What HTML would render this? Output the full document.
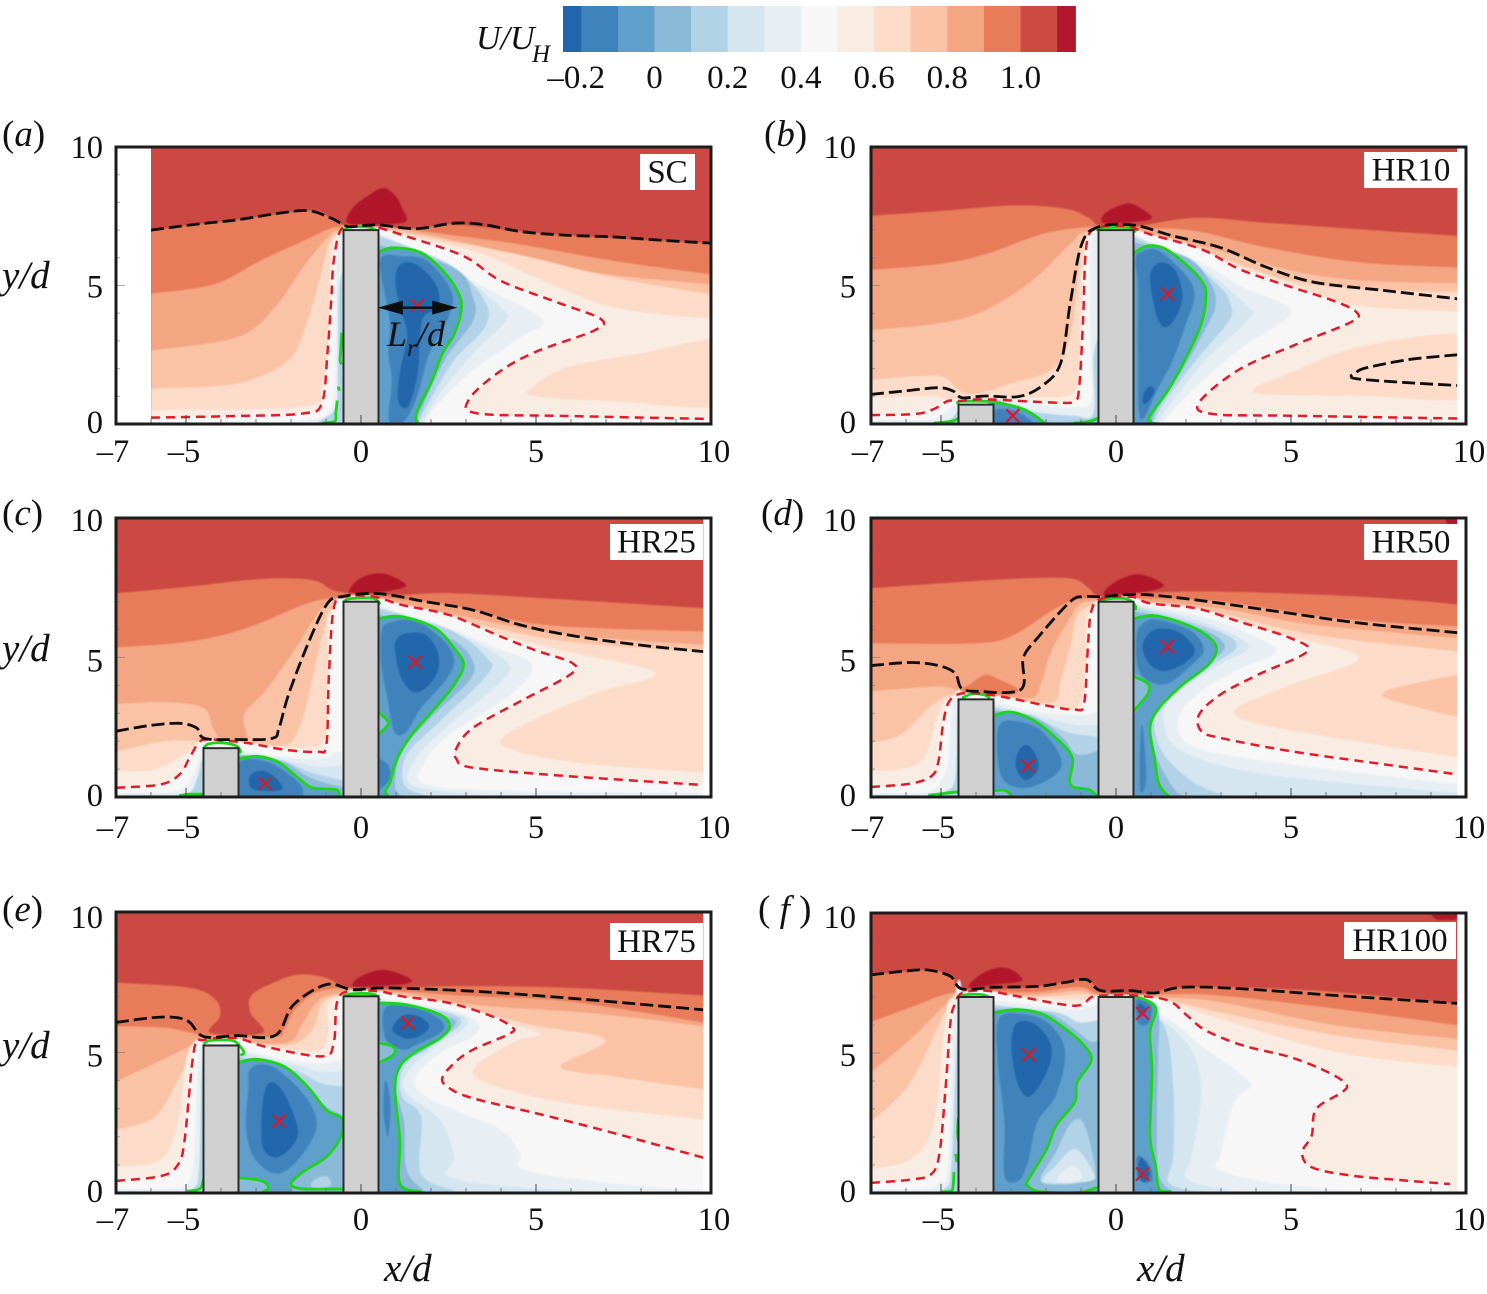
<!DOCTYPE html>
<html lang="en">
<head>
<meta charset="utf-8">
<title>Mean streamwise velocity contours</title>
<style>
html,body{margin:0;padding:0;background:#fff;}
svg{display:block;}
text{font-family:"Liberation Serif",serif;fill:#111;}
</style>
</head>
<body>
<svg id="fig" xmlns="http://www.w3.org/2000/svg" width="1487" height="1294" viewBox="0 0 1487 1294">
<defs>
<filter id="soft" x="-3%" y="-3%" width="106%" height="106%"><feGaussianBlur stdDeviation="0.9"/></filter>
<filter id="softline" x="-3%" y="-3%" width="106%" height="106%"><feGaussianBlur stdDeviation="0.35"/></filter>
</defs>
<rect x="0" y="0" width="1487" height="1294" fill="#fff"/>
<g id="colorbar"></g>
<text x="476" y="49" font-size="34" font-style="italic">U/U</text>
<text x="532" y="62" font-size="25" font-style="italic">H</text>
<g id="panels"></g>
<text x="2" y="146" font-size="37">(<tspan font-style="italic">a</tspan>)</text>
<text x="764" y="146" font-size="37">(<tspan font-style="italic">b</tspan>)</text>
<text x="2" y="525" font-size="37">(<tspan font-style="italic">c</tspan>)</text>
<text x="761" y="525" font-size="37">(<tspan font-style="italic">d</tspan>)</text>
<text x="2" y="921" font-size="37">(<tspan font-style="italic">e</tspan>)</text>
<text x="758" y="921" font-size="37">(<tspan font-style="italic"> f </tspan>)</text>
<text x="2" y="288" font-size="39" font-style="italic">y/d</text>
<text x="2" y="661" font-size="39" font-style="italic">y/d</text>
<text x="2" y="1058" font-size="39" font-style="italic">y/d</text>
<text x="384" y="1281" font-size="39" font-style="italic">x/d</text>
<text x="1137" y="1281" font-size="39" font-style="italic">x/d</text>
<text x="387" y="346" font-size="36" font-style="italic">L</text>
<text x="407" y="356" font-size="25" font-style="italic">r</text>
<text x="417" y="346" font-size="36" font-style="italic">/d</text>
</svg>
<script>
const colorLevels=[-0.25,-0.2,-0.1,0,0.1,0.2,0.3,0.4,0.5,0.6,0.7,0.8,0.9,1.0,1.1,1.15];
const colorValues=['#2166ac','#3f83bc','#5f9fcb','#8abad7','#b2d3e7','#d6e6f0','#e7eff5','#f7f7f7','#f9ece3','#fcdcc9','#fac3a6','#f4a582','#e87b5a','#cb4a42','#b2182b'];
const colorbarTicks=[-0.2,0,0.2,0.4,0.6,0.8,1.0];
const colorbarLabels=['–0.2','0','0.2','0.4','0.6','0.8','1.0'];
const xTicks=[-7,-5,0,5,10];
const xTickLabels=['–7','–5','0','5','10'];
const xTicksNoSeven=[-5,0,5,10];
const xTickLabelsNoSeven=['–5','0','5','10'];
const yTicks=[0,5,10];
const yTickLabels=['0','5','10'];
const lrSpan=[0.48,2.75];
const lrHeight=4.2;

/* ---------- panel a : SC ---------- */
const aHeights=[7];
const aCentres=[[1.61,4.27]];
const aBlack=[[-6,7,-4.8,7.2,-3.55,7.37,-2.4,7.6,-1.5,7.7,-.85,7.43,-.38,7.13,.1,7.17,.6,7.18,1.58,7.05,2.66,7.25,3.5,7.2,4.55,6.95,5.8,6.82,7.25,6.75,8.6,6.63,10,6.53]];
const aRed=[-6,.23,-3.55,.29,-1.66,.38,-1.12,.74,-.96,2.53,-.85,4.5,-.78,5.88,-.58,7,-.18,7.15,.36,7.13,1.31,6.77,2.93,6.06,4.01,5.16,5.63,4.38,6.85,3.79,6.65,3.37,4.96,2.59,3.88,1.82,3.07,.86,3.34,.38,5.9,.29,10,.18];
const aGreen=[.42,6.15,.9,6.36,1.72,6.18,2.39,5.46,2.8,4.68,2.86,4.09,2.66,3.25,2.32,2.53,1.99,1.46,1.58,.38,1.65,0];
const aGreenExtra=[[-.55,3.3,-.58,2.6,-.6,2.3,-.55,2.15],[-.65,1.35,-.62,1.2],[-.68,.85,-.72,.4,-.75,.1,-1.1,.03],[-.5,7,-.3,7.12,.1,7.12,.3,7.08,.5,6.95]];
const aBands=[
[1.12,0,[-.38,7.25,-.24,7.8,.23,8.27,.64,8.53,.97,8.27,1.18,7.8,1.28,7.3,.5,7.2]],
[.95,1,[-6,7,-3.55,7.37,-1.5,7.7,-.85,7.43,-.38,7.13,.5,7.1,1.58,7.05,2.66,7.2,4.55,6.95,7.25,6.7,10,6.53]],
[.85,1,[-6,4.7,-4.2,5.04,-2.9,5.88,-1.66,6.6,-.85,7.07,-.4,7.1,.77,7.1,2.5,6.83,4.55,6.48,7.25,5.88,10,5.4]],
[.75,1,[-6,2.65,-3.55,3.13,-2.47,4.2,-1.66,5.64,-.98,6.7,-.58,7,.5,7.05,1.18,7,3.2,6.48,6.5,5.5,10,5.04]],
[.65,1,[-6,1.28,-3.55,1.46,-2.07,2.3,-1.53,3.73,-1.12,5.5,-.72,6.83,.5,7,2.5,6.6,4.55,6.1,7.25,5.28,10,4.68]],
[.55,1,[-6,.5,-1.66,.62,-1.12,1.34,-.92,3.13,-.85,6.1,-.58,6.95,.5,6.95,3.2,6.24,5.23,5.16,7.25,4.2,10,3.79]],
[.65,0,[4.9,1.34,5.9,2.05,7.93,2.53,10.5,3,10.5,.74,7.25,.82,4.95,1]],
[.45,1,aRed],
[.35,0,[-.68,6.5,-.72,3,-.75,1.2,-.95,.35,-1.5,.15,-2.5,.05,-6,.03,-6,-.3,-.4,-.3,-.4,6.5]],
[.15,0,[-.62,5,-.66,2,-.72,.6,-1.2,.08,-1.3,-.3,-.4,-.3,-.4,5]],
[.35,1,[.4,6.95,1.85,6.12,3.2,5.16,5.16,3.79,4.55,3.13,3.2,1.94,2.12,.62,1.85,.08]],
[.25,1,[.4,6.9,2,5.9,3.2,5.04,4,4.2,4.15,3.73,3.2,2.53,2.26,1.1,1.78,.08]],
[.15,1,[.4,6.85,2.53,5.76,3.54,4.44,3.54,3.49,2.66,2.3,1.92,.74,1.65,.08]],
[.05,1,[.4,6.5,2.66,5.64,3.2,4.56,3.2,3.73,2.39,2.3,1.72,.5,1.6,.08]],
[-.05,1,aGreen],
[-.15,0,[.55,5.9,1.2,6.05,1.9,5.88,2.58,4.8,2.5,3.85,1.95,2.53,1.6,.98,1.22,.08,.8,.1,.88,1.6,.78,2.53,.82,3.73]],
[-.22,0,[1.12,5.76,1.58,5.76,2.14,5.04,2.22,4.2,1.75,3.75,1.62,1.82,1.34,.62,1.05,.86,1.12,1.94,1.32,3.2,1.12,4.2,.98,5.16]]
];

/* ---------- panel b : HR10 ---------- */
const bHeights=[.7,7];
const bCentres=[[-2.95,.3],[1.47,4.7]];
const bBlack=[[-7,1.07,-6,1.2,-5.07,1.31,-4.66,1.19,-4.4,.95,-3.73,1.01,-2.79,.99,-2.12,1.37,-1.58,2.2,-1.31,4.35,-.98,6.49,-.51,7.11,.5,7.18,1.63,6.79,2.98,6.37,4.32,5.65,5.66,5.12,7.67,4.82,9.75,4.52],[9.75,2.5,8.34,2.32,7.13,2.02,6.85,1.85,6.72,1.72,6.95,1.62,8.34,1.49,9.75,1.39]];
const bRed=[-7,.32,-5.74,.36,-5.2,.54,-4.8,.83,-4.46,.83,-3.73,.89,-1.72,.77,-1.18,.83,-1.05,1.37,-.94,3.75,-.84,6.49,-.51,7.08,.3,7.14,.97,6.85,2.44,6.31,3.51,5.6,4.72,5.06,6.19,4.46,6.86,4.05,6.73,3.69,5.12,2.86,3.51,1.96,2.37,.77,2.77,.36,4.99,.3,9.75,.2];
const bGreen=[.42,6.1,.9,6.43,1.43,6.31,2.04,5.71,2.44,5.18,2.57,4.7,2.44,3.63,1.97,2.32,1.5,1.25,.97,.3,.97,.06,1.3,0];
const bGreenCavity=[-3.6,.82,-2.79,.6,-2.39,.36,-2.05,.04];
const bGreenExtra=[[-4.5,.7,-4.45,.82,-3.6,.82],[-5.2,.03,-4.7,.1,-4.5,.2],[-1.2,.03,-.8,.08,-.5,.22],[-.52,6.95,-.45,7.08,.45,7.08,.54,6.9]];
const bBands=[
[1.12,0,[-.38,7.26,-.31,7.62,.16,7.92,.5,7.94,.97,7.56,.97,7.38,.3,7.26]],
[.95,1,[-7,7.52,-5.07,7.68,-2.92,7.89,-1.45,7.77,-.78,7.44,-.44,7.14,.56,7.14,2.3,7.44,4.32,7.26,7,7.02,9.8,6.79]],
[.85,1,[-7,5.57,-5.07,5.77,-3.73,6.13,-2.12,6.85,-1.05,7.08,-.5,7.1,.7,7.08,2.3,6.96,4.32,6.37,7,5.83,9.8,5.65]],
[.75,1,[-7,3.39,-5.07,3.63,-3.73,4.11,-2.39,5.18,-1.31,6.49,-.78,6.96,.83,6.9,2.98,6.25,4.99,5.54,7,5.18,9.8,5.08]],
[.65,1,[-7,1.6,-5.07,1.73,-4.53,1.25,-4,1.1,-2.92,1.49,-1.85,1.96,-1.31,3.15,-1.05,5.54,-.78,6.85,.97,6.85,2.98,6.01,4.99,5.18,7,4.88,9.8,4.76]],
[.55,1,[-7,.95,-5.33,1.01,-4.8,.87,-4.4,.93,-2.39,.95,-1.31,1.07,-1.05,1.96,-.98,4.94,-.84,6.6,-.58,7.02,.83,6.85,2.98,5.89,4.99,5.06,6.86,4.29,9.8,4.05]],
[.65,0,[3.98,1.31,4.99,1.85,7,2.8,10.2,3.15,10.2,1.01,7,1.01,4.32,1.07]],
[.45,1,bRed],
[.35,0,[-7,.12,-5.5,.15,-5,.3,-4.6,.72,-4.4,.4,-4.4,-.3,-7,-.3]],
[.15,0,[-7,.04,-5.5,.05,-4.8,.12,-4.52,.45,-4.4,.3,-4.4,-.3,-7,-.3]],
[.35,0,[-3.6,.85,-2.4,.7,-1.2,.6,-.7,.85,-.72,2.5,-.72,6.3,-.4,6.5,-.4,-.3,-3.6,-.3]],
[.15,0,[-3.6,.8,-2.4,.45,-1.2,.3,-.65,.4,-.64,2.5,-.4,3,-.4,-.3,-3.6,-.3]],
[.05,0,[-3.6,.75,-2.6,.55,-2,.1,-1.2,.08,-.6,.2,-.4,.3,-.4,-.3,-3.6,-.3]],
[-.05,0,[-3.6,.82,-2.79,.6,-2.39,.36,-2.05,-.1,-3.6,-.3]],
[-.15,0,[-3.45,.5,-3,.5,-2.55,.25,-2.4,-.1,-3.45,-.1]],
[.35,1,[.4,6.9,2.3,5.89,3.65,4.94,4.99,4.05,3.65,2.8,2.3,1.37,1.37,.12]],
[.25,1,[.4,6.85,2.3,5.75,3.78,4.23,3.78,3.75,2.57,2.32,1.5,.65,1.23,.12]],
[.15,1,[.4,6.8,2.04,5.89,2.98,4.94,3.24,4.46,3.24,3.75,2.3,2.32,1.37,.77,1.1,.12]],
[.05,1,[.4,6.6,2.04,6.01,2.71,5.06,2.84,4.23,2.44,3.15,1.9,1.96,1.23,.65,1.03,.12]],
[-.05,1,bGreen],
[-.15,0,[.56,5.89,.7,6.2,1.23,6.25,2.04,5.3,2.24,4.58,1.97,3.51,1.63,2.32,1.23,1.37,.7,.18,.63,2.56,.63,4.94]],
[-.22,0,[1.37,5.83,1.7,5.54,1.9,4.7,1.77,3.99,1.43,3.49,1.17,3.87,.97,5.18,1.1,5.71]],
[-.22,0,[.97,1.37,1.1,1.19,.9,.77,.76,.77,.8,1.13]]
];

/* ---------- panel c : HR25 ---------- */
const cHeights=[1.75,7];
const cCentres=[[-2.74,.48],[1.55,4.83]];
const cBlack=[[-7,2.36,-5.99,2.57,-5.18,2.64,-4.7,2.48,-4.47,2.1,-3.55,2.06,-2.54,2.1,-2.34,2.48,-2.07,3.67,-1.53,5.45,-.99,6.88,-.58,7.18,.5,7.29,1.85,7,3.2,6.7,4.55,6.17,5.9,5.81,7.93,5.45,9.78,5.21]];
const cRed=[-7,.33,-5.72,.45,-5.18,.81,-4.9,1.4,-4.64,1.94,-4.36,2.06,-3.28,1.94,-2.2,1.7,-1.26,1.62,-.99,1.88,-.92,4.26,-.78,6.76,-.45,7.18,.36,7.18,1.18,6.88,2.53,6.52,3.88,5.81,4.96,5.27,6.04,4.8,5.97,4.38,4.55,3.43,3.2,2.48,2.73,1.76,2.73,1.35,3.2,1.05,5.9,.75,9.78,.43];
const cGreen=[.42,6.3,.6,6.42,1.18,6.46,2.12,6.05,2.66,5.33,2.93,4.74,2.66,4.02,2.12,3.19,1.45,2.24,1.04,1.4,.84,.57,.7,.21,.77,.04];
const cGreenCavity=[-3.6,1.35,-2.95,1.46,-2.34,1.23,-1.8,.69,-1.39,.33,-.72,.27,-.61,.04];
const cGreenPocket=[.45,3.1,.77,2.71,.7,2.48,.45,2.2];
const cGreenExtra=[[-5.2,.05,-4.9,.1,-4.5,.1],[-4.5,1.74,-4.36,1.9,-3.96,1.94,-3.55,1.82,-3.42,1.58],[-.5,6.95,-.35,7.1,.35,7.12,.55,6.9]];
const cBands=[
[1.12,0,[-.34,7.3,-.11,7.77,.36,8.01,.84,7.95,1.28,7.54,.3,7.3]],
[.95,1,[-7,7.3,-4.9,7.54,-2.88,7.81,-1.39,7.77,-.65,7.36,.9,7.24,2.53,7.3,5.23,7.12,9.85,6.76]],
[.85,1,[-7,5.36,-4.9,5.57,-3.28,6.05,-1.66,6.88,-.85,7.12,.5,7.15,2.53,6.88,5.23,6.17,9.85,5.93]],
[.75,1,[-7,3.33,-5.58,3.4,-4.5,3.19,-4.23,2.48,-3.96,2.06,-3.28,2.06,-3.35,2.95,-2.74,3.79,-1.93,5.21,-1.12,6.76,-.65,7.06,.9,7,3.2,6.4,5.9,5.81,9.85,5.45]],
[.65,1,[-7,1.64,-5.58,2,-4.64,2,-3.5,1.95,-2.2,1.85,-1.8,2.36,-1.53,3.43,-1.12,5.69,-.7,6.9,.9,6.88,3.2,6.23,5.9,5.57,9.85,5.21]],
[.55,1,[-7,.93,-5.85,.99,-4.9,1.64,-4.5,2,-3.28,1.94,-1.66,1.76,-.99,2.24,-.92,4.86,-.78,6.76,.9,6.82,3.2,6.05,5.9,5.21,8.4,4.44,6.58,3.67,4.15,2.24,4.42,1.64,6.58,1.17,9.85,.87]],
[.45,1,cRed],
[.35,0,[-7,.1,-5.5,.17,-5,.4,-4.72,1,-4.55,1.8,-4.4,1.8,-4.4,-.3,-7,-.3]],
[.15,0,[-7,.04,-5.5,.06,-4.9,.15,-4.65,.8,-4.55,1.3,-4.4,1.2,-4.4,-.3,-7,-.3]],
[.35,1,[-3.6,1.7,-2.34,1.46,-1.12,1.4,-.7,1.6,-.4,1.7]],
[.25,1,[-3.6,1.6,-2.3,1.35,-1.3,1.1,-.75,1.1,-.4,1.15]],
[.15,1,[-3.6,1.55,-2.4,1.35,-1.53,.93,-.85,.69,-.4,.57]],
[.05,1,[-3.6,1.5,-2.34,1.33,-1.53,.75,-.85,.45,-.4,.35]],
[-.05,1,cGreenCavity],
[-.15,0,[-3.5,1.2,-2.74,1.29,-1.93,.69,-1.66,.21,-1.9,-.1,-3.5,-.1]],
[-.22,0,[-3.15,.81,-2.74,.93,-2.34,.57,-2.27,.27,-2.74,.21,-3.15,.33]],
[.35,1,[.4,6.9,2.53,6.05,3.88,5.33,4.89,4.74,4.28,3.67,2.53,2.24,1.85,1.29,1.85,.45,4.55,.21,9.85,.15]],
[.25,1,[.4,6.85,2.8,5.81,4.15,4.86,4.01,4.14,2.53,2.6,1.58,1.4,1.45,.45,3.2,.1,5,.03]],
[.15,1,[.4,6.8,2.53,6,3.61,4.98,3.61,4.38,2.26,2.71,1.31,1.52,1.24,.45,1.85,.04]],
[.05,1,[.4,6.6,2.53,5.69,3.2,4.86,3.07,4.14,1.99,2.83,1.18,1.64,.97,.45,1.15,.04]],
[-.05,1,cGreen],
[.05,0,cGreenPocket],
[-.15,0,[.6,6,.9,6.28,1.58,6.29,2.39,5.57,2.66,4.86,2.39,4.14,1.72,3.19,1.31,2.36,.97,2.3,.77,3.43,.57,4.86]],
[-.22,0,[1.31,5.87,1.85,5.81,2.19,5.21,2.19,4.5,1.85,3.9,1.45,3.79,1.11,4.38,.97,5.33,1.04,5.69]],
[-.15,0,[.45,1.29,.77,1.17,.84,.69,.6,.33,.45,.3]]
];

/* ---------- panel d : HR50 ---------- */
const dHeights=[3.5,7];
const dCentres=[[-2.52,1.11],[1.47,5.39]];
const dBlack=[[-7,4.71,-5.87,4.82,-5.07,4.71,-4.6,4.44,-4.42,3.9,-3.99,3.79,-2.72,3.85,-2.65,4.98,-2.25,5.69,-1.31,7,-.91,7.18,-.44,7.18,.7,7.26,2.3,7.06,4.99,6.58,7,6.23,9.75,5.89]];
const dRed=[-7,.36,-5.87,.48,-5.27,.75,-5.07,1.29,-4.93,2.71,-4.73,3.49,-4.26,3.73,-3.32,3.61,-2.12,3.31,-1.18,3.13,-.91,3.37,-.8,5.45,-.71,6.64,-.44,7.1,.43,7.18,.97,6.94,2.3,6.76,3.51,6.29,4.99,5.69,5.46,5.21,4.05,4.38,2.98,3.67,2.37,2.95,2.44,2.36,2.98,2.12,4.99,1.64,7.67,1.17,9.75,.81];
const dGreen=[.42,6.3,.6,6.42,1.1,6.5,1.9,6.23,2.57,5.81,2.87,5.33,2.64,4.74,1.9,4.02,1.23,3.19,.97,2.48,1.1,1.4,1.23,.45,1.5,.04];
const dGreenCavity=[-3.6,2.85,-3.06,3.05,-2.39,2.77,-1.72,2.12,-1.25,1.4,-1.31,.45,-.78,.27,-.54,.04];
const dGreenPocket=[.45,4.35,.9,4.08,.94,3.79,.83,3.55,.45,3];
const dGreenExtra=[[-3.6,.2,-3.19,.24,-2.99,.04],[-5.36,.06,-5.07,.1,-4.53,.19],[-4.4,3.55,-4.13,3.69,-3.79,3.67,-3.6,3.55],[-.51,6.98,-.24,7.1,.3,7.1,.54,6.88,.56,6.7]];
const dBands=[
[1.12,0,[-.35,7.24,-.11,7.65,.5,7.98,.97,7.89,1.37,7.6,1.1,7.42,.3,7.26]],
[1.12,0,[9.45,10.2,9.45,9.8,9.75,9.8,9.75,10.2]],
[.95,1,[-7,7.48,-5.07,7.65,-3.06,7.81,-1.31,7.83,-.78,7.48,-.44,7.18,.7,7.3,2.98,7.36,7,7.18,9.8,6.9]],
[.85,1,[-7,5.51,-3.99,5.51,-2.92,5.81,-1.72,6.76,-.91,7.12,.8,7.12,2.98,7,6.33,6.4,9.8,6.11]],
[.95,0,[-4.4,3.79,-4.13,4.08,-3.73,4.38,-3.32,4.2,-2.79,3.79,-3.7,3.5]],
[.75,1,[-7,3.79,-5.07,3.96,-4.45,3.79,-3.46,3.67,-2.39,3.55,-2.12,4.14,-1.85,5.21,-1.31,6.4,-.84,7,.83,7,2.98,6.76,5.66,6.17,9.8,5.69]],
[.65,1,[-7,1.94,-6.14,2.24,-5.34,3.19,-4.66,3.67,-3.46,3.61,-1.85,3.37,-1.58,4.14,-1.31,5.33,-.91,6.76,.8,6.9,2.98,6.58,5.66,5.81,9.8,5.21]],
[.55,1,[-7,.93,-6.14,1,-5.47,1.4,-5.07,2.95,-4.66,3.61,-3.32,3.55,-1.72,3.19,-1.05,3.31,-.84,4.86,-.71,6.76,.8,6.85,2.98,6.35,4.99,5.75,6.93,4.98,4.99,4.02,3.45,3.19,3.78,2.71,5.66,2.24,9.8,1.4]],
[.75,0,[7.6,3.67,8.34,4.02,10.2,4.32,10.2,2.89,8.34,3.31]],
[.45,1,dRed],
[.35,0,[-7,.1,-5.5,.15,-5.07,.45,-4.8,1.29,-4.66,3.43,-4.4,3.5,-4.4,-.3,-7,-.3]],
[.15,0,[-7,.04,-5.5,.05,-4.9,.2,-4.6,.69,-4.53,3.07,-4.4,3,-4.4,-.3,-7,-.3]],
[.35,1,[-3.6,3.45,-2.39,3.07,-1.05,2.95,-.4,3.1]],
[.25,1,[-3.6,3.35,-2.39,2.95,-1.18,2.6,-.4,2.6]],
[.15,1,[-3.6,3.25,-2.12,2.71,-1.31,2.3,-.4,2.15]],
[.05,1,[-3.6,3.1,-2.39,2.9,-1.51,2.12,-1.11,1.52,-.4,1.7]],
[-.05,1,dGreenCavity],
[-.15,0,[-3.32,2.6,-2.79,2.71,-2.12,2.36,-1.58,1.4,-1.72,.81,-2.52,.33,-3.19,.57,-3.39,1.52]],
[-.22,0,[-2.52,1.86,-2.25,1.4,-2.25,.93,-2.59,.6,-2.86,1.05,-2.79,1.64]],
[.05,1,[-3.6,.2,-3.19,.24,-2.99,.04]],
[.35,1,[.4,6.95,2.3,6.52,3.65,5.93,4.58,5.21,3.38,4.5,2.3,3.67,1.77,2.71,2.3,1.76,4.99,1.17,9.8,.45]],
[.25,1,[.4,6.9,2.3,6.35,3.78,5.45,2.98,4.74,1.64,3.67,1.37,2.71,1.9,1.64,4.32,.81,9.8,.15]],
[.15,1,[.4,6.85,2.7,6.05,3.45,5.39,2.44,4.5,1.37,3.43,1.1,2.6,1.37,1.52,2.17,.57,2.98,.1]],
[.05,1,[.4,6.7,2.3,6.1,3.11,5.39,2.3,4.5,1.23,3.43,1,2.6,1.17,1.4,1.64,.33,1.9,.04]],
[-.05,1,dGreen],
[.05,0,dGreenPocket],
[-.15,0,[.59,5.81,.8,6.25,1.23,6.35,2.17,5.93,2.51,5.27,2.17,4.74,1.5,4.08,.97,4.14,.63,4.62]],
[-.22,0,[1.1,6,1.77,5.93,2.24,5.33,2.04,4.86,1.43,4.52,.97,4.74,.76,5.45]],
[-.15,0,[.74,2.6,.82,1.76,.86,.57,.7,.2,.68,1.6]]
];

/* ---------- panel e : HR75 ---------- */
const eHeights=[5.25,7];
const eCentres=[[-2.34,2.56],[1.34,6.05]];
const eBlack=[[-7,6.07,-5.72,6.26,-4.97,6.14,-4.5,5.57,-3.55,5.6,-2.45,5.61,-1.93,6.7,-.99,7.42,-.24,7.24,.77,7.3,3.2,7.18,5.9,6.94,9.78,6.52]];
const eRed=[-7,.43,-5.72,.6,-5.24,.99,-5.04,1.88,-4.77,5.1,-4.5,5.45,-3.55,5.51,-2.74,5.21,-1.12,4.86,-.78,5.33,-.69,6.76,-.38,7.18,.5,7.18,1.18,7,2.53,6.76,3.74,6.29,4.28,5.93,4.28,5.69,3.2,5.1,2.66,4.62,2.32,4.08,2.53,3.73,3.2,3.37,5.23,2.77,7.26,2.12,9.69,1.29,9.78,1.25];
const eGreen=[.42,6.76,.54,6.76,1.31,6.7,2.26,6.35,2.53,5.93,2.26,5.51,1.58,5.04,1.11,4.5,.97,3.67,1.11,1.88,1.11,.33,1.72,.04];
const eGreenCavity=[-3.6,4.6,-3.01,4.76,-2.2,4.5,-1.53,3.79,-.99,2.95,-.55,2.65,-.58,2,-.99,1.29,-1.66,.75,-2,.33,-1.66,.15,-.5,.15];
const eGreenPocket=[.45,5.36,.91,5.21,.93,4.92,.45,4.6];
const eGreenLow=[-3.6,.55,-2.88,.45,-2.64,.21,-2.81,.02];
const eGreenExtra=[[-4.97,.06,-4.6,.15,-4.5,.5],[-4.5,5.31,-4.3,5.43,-3.69,5.43,-3.45,5.21,-3.35,4.98,-3.45,4.9],[-.5,6.95,-.35,7.08,.35,7.08,.54,6.85]];
const eBands=[
[1.12,0,[-.24,7.36,-.04,7.69,.64,7.95,1.38,7.65,1.31,7.45,.3,7.35]],
[.95,1,[-7,7.48,-4.9,7.3,-4.16,6.88,-4.03,6.29,-4.3,5.69,-2.81,5.69,-3.15,6.4,-3.15,7,-2.61,7.42,-1.8,7.77,-.99,7.65,-.38,7.3,.9,7.28,2.66,7.36,5.9,7.3,9.85,7.02]],
[.85,1,[-7,5.93,-5.6,5.88,-4.64,5.63,-4.4,5.6,-2.47,5.57,-2.2,5.81,-1.8,6.64,-.99,7.24,.9,7.2,3.2,7,5.9,6.82,9.85,6.05]],
[.75,1,[-7,3.96,-5.89,4.62,-4.9,5.21,-4.5,5.48,-2.2,5.33,-1.66,6.05,-.99,7,.9,7.15,3.2,6.7,6.58,6.4,9.85,5.93]],
[.65,1,[-7,2.24,-5.89,2.71,-5.18,4.14,-4.77,5.1,-4.5,5.45,-3,5.3,-1.9,5.3,-1.35,5.9,-.9,6.95,.9,7,3.2,6.46,5.09,5.93,6.99,5.45,5.7,4.5,7.26,4.14,9.85,3.67]],
[.55,1,[-7,.93,-5.72,1.17,-5.24,2.48,-4.97,4.86,-4.5,5.45,-3,5.25,-1.3,5.05,-.95,5.6,-.82,6.9,.9,6.9,3.2,6.34,5.09,5.69,4.5,5.45,3.27,4.5,3.61,3.9,5.9,3.19,9.85,2.6]],
[.45,1,eRed],
[.35,0,[-7,.1,-5.5,.15,-4.97,.33,-4.77,1.29,-4.64,4.86,-4.4,5.1,-4.4,-.3,-7,-.3]],
[.15,0,[-7,.04,-5.5,.05,-4.8,.15,-4.62,1,-4.55,4.5,-4.4,4.5,-4.4,-.3,-7,-.3]],
[.35,1,[-3.6,5.15,-2.2,4.74,-1.12,4.62,-.4,4.8]],
[.25,1,[-3.6,5.05,-2.07,4.62,-1.12,4.32,-.4,4.4]],
[.15,1,[-3.6,4.9,-1.93,4.38,-1.12,3.9,-.4,3.8]],
[.05,1,[-3.6,4.75,-2.2,4.55,-1.12,3.19,-.4,2.71]],
[-.05,1,[-3.6,4.6,-3.01,4.76,-2.2,4.5,-1.53,3.79,-.99,2.95,-.55,2.65,-.58,2,-.99,1.29,-1.66,.75,-2,.33,-1.9,-.2]],
[.15,0,[-1.35,.45,-1,.6,-.85,.35,-1,.2,-1.4,.2]],
[.05,1,eGreenLow],
[-.15,0,[-3.15,4.44,-2.54,4.5,-1.66,3.55,-1.26,2.48,-1.66,1.4,-2.34,.69,-3.01,1.17,-3.28,2.24,-3.22,3.67]],
[-.22,0,[-2.61,3.93,-2.2,3.55,-1.8,2.12,-2.34,1.29,-2.81,1.64,-2.81,3.19]],
[.35,1,[.4,6.95,2.53,6.52,3.34,6.05,3.2,5.57,2.26,4.98,1.58,4.14,1.72,3.55,2.66,2.95,4.01,2.24,4.55,1.4,4.69,.81,7.26,.33,9.85,.1]],
[.25,1,[.4,6.9,2.7,6.4,3,5.93,2.12,5.21,1.31,4.26,1.31,3.55,2.26,2.6,2.66,1.29,2.53,.57,4.55,.21,7.26,.04]],
[.15,1,[.4,6.88,2.53,6.4,2.8,5.93,1.85,5.21,1.18,4.38,1.18,3.43,1.72,2.71,1.72,.69,2.66,.1]],
[.05,1,[.4,6.85,2.4,6.3,2.66,5.93,1.85,5.1,1.18,4.62,1.01,3.67,1.24,2.48,1.31,.81,1.85,.04]],
[-.05,1,eGreen],
[.05,0,eGreenPocket],
[-.15,0,[.7,6.6,1.58,6.58,2.26,6.17,2.32,5.75,1.58,5.27,1.18,5.1,.7,5.51]],
[-.22,0,[1.18,6.31,1.65,6.29,1.96,5.93,1.65,5.57,1.24,5.51,.9,5.81]],
[-.15,0,[.7,4.02,.84,3.19,.77,2,.64,2.95]]
];

/* ---------- panel f : HR100 ---------- */
const fHeights=[7,7];
const fCentres=[[-2.49,4.94],[.76,6.42],[.76,.68]];
const fBlack=[[-7,7.79,-5.94,7.94,-5.34,7.96,-4.73,7.74,-4.4,7.29,-3.46,7.35,-2.25,7.38,-1.45,7.52,-.84,7.62,-.44,7.23,.43,7.23,1.1,7.14,1.9,7.35,3.65,7.29,6.33,7.05,9.75,6.77]];
const fRed=[-7,.36,-5.87,.48,-5.27,.68,-5.04,1.45,-4.87,3.71,-4.73,6.1,-4.6,6.75,-4.4,7.14,-3.73,7.23,-2.79,7.02,-1.18,6.69,-.71,6.99,-.44,7.05,.56,7.05,1.5,6.87,2.04,6.33,2.57,5.8,3.65,5.26,4.99,4.85,6.06,4.31,6.57,3.89,6.46,3.6,5.72,3,5.59,2.05,5.32,1.45,5.59,.92,6.73,.62,8.34,.44,9.54,.32];
const fGreen=[.42,7,.54,7.02,.97,6.81,1.14,6.51,.97,5.74,1.03,4.31,.97,2.05,1.13,.98,1.23,.14,1.57,.05];
const fGreenCavity=[-3.6,6.35,-3.43,6.45,-2.79,6.55,-2.12,6.39,-1.45,5.86,-.91,5.26,-.71,4.73,-1.11,3.95,-1.18,3.24,-1.72,2.4,-1.98,1.57,-2.52,.44,-2.52,.26,-2.18,.05,-1.05,.02,-.54,.2];
const fGreenExtra=[[-4.5,2.7,-4.53,2.2,-4.5,1.85],[-4.58,1.4,-4.55,1.1],[-4.63,.75,-4.65,.3,-4.7,.08,-5,.04],[-4.5,6.95,-4.3,7.08,-3.8,7.08,-3.5,6.9],[-.5,6.98,-.4,7.05]];
const fBands=[
[1.12,0,[-4.2,7.35,-3.86,7.82,-3.32,8.06,-2.92,7.94,-2.68,7.58,-3.32,7.46]],
[1.12,0,[9,10.2,9.1,9.8,9.45,9.75,9.75,9.8,9.75,10.2]],
[.95,1,[-7,7.79,-5.34,7.96,-4.66,7.7,-4.4,7.29,-2.39,7.35,-.91,7.62,-.38,7.17,.97,7.11,1.9,7.35,5.66,7.23,9.8,6.75]],
[.85,1,[-7,6.1,-5.74,6.69,-4.53,7.17,-2.39,7.17,-1.05,7.35,-.4,7.1,1.2,7.1,2.98,7.05,6.33,6.57,9.8,5.98]],
[.75,1,[-7,4.31,-5.87,5.5,-4.8,6.81,-4.45,7.1,-2.39,7.07,-1.05,7.23,-.4,7.05,1.37,6.99,2.98,6.81,6.33,5.98,9.8,5.5]],
[.65,1,[-7,2.52,-5.87,3.95,-4.93,6.33,-4.5,7.05,-2.39,7,-1.05,7.1,-.4,7,1.43,6.87,2.98,6.45,6.33,5.62,9.8,5.08]],
[.55,1,[-7,.86,-5.87,1.21,-5.2,2.52,-4.87,6.1,-4.5,7,-2.39,6.95,-1.05,6.9,-.4,6.95,1.64,6.75,2.98,6.21,6.33,5.02,9.8,4.5]],
[.45,1,fRed],
[.35,0,[-7,.1,-5.5,.15,-5.05,.4,-4.8,1,-4.62,6.7,-4.4,6.9,-4.4,-.3,-7,-.3]],
[.15,0,[-7,.04,-5.5,.05,-4.9,.15,-4.7,1,-4.55,5.5,-4.4,5.5,-4.4,-.3,-7,-.3]],
[.35,1,[-3.6,6.9,-1.85,6.63,-1.05,6.57,-.4,6.85]],
[.15,1,[-3.6,6.72,-1.72,6.45,-1.05,6.1,-.4,6.21]],
[.05,1,[-3.6,6.6,-2.1,6.48,-1.35,6,-.71,5.4,-.4,5.6]],
[-.05,1,[-3.6,6.35,-3.43,6.45,-2.79,6.55,-2.12,6.39,-1.45,5.86,-.91,5.26,-.71,4.73,-1.11,3.95,-1.18,3.24,-1.72,2.4,-1.98,1.57,-2.52,.44,-2.52,.26,-2.18,.05,-1.05,.02,-.4,.15]],
[.15,0,[-.98,2.58,-.71,1.57,-.71,.5,-2.12,.38,-1.72,1.45,-1.31,2.45]],
[.25,0,[-1.18,1.57,-.71,.86,-.71,.44,-2.05,.38,-1.72,.98]],
[.35,0,[-1.25,.98,-.98,.62,-1.15,.42,-1.7,.45]],
[-.15,0,[-3.32,6.27,-2.52,6.36,-1.85,5.98,-1.45,5.02,-1.72,3.48,-2.25,2.52,-2.52,1.1,-2.79,.44,-3.19,.62,-3.19,2.52,-3.39,4.9]],
[-.22,0,[-2.86,6.04,-2.32,6.04,-1.85,5.26,-1.98,4.31,-2.45,3.45,-2.79,3.83,-2.99,5.14]],
[.35,1,[.4,6.95,1.64,6.1,2.44,5.26,3.51,4.31,3.85,3.83,3.38,3.24,2.98,1.33,2.91,.86,4.32,.38,7,.05]],
[.25,1,[.4,6.9,1.64,5.86,2.24,4.9,2.44,3.48,2.17,1.33,2.04,.5,3.4,.05]],
[.15,1,[.4,6.85,1.37,5.98,1.64,3.71,1.64,1.33,1.5,.38,2.3,.04]],
[.05,1,[.4,6.95,1.17,6.69,1.21,4.9,1.17,2.52,1.23,.62,1.65,.03]],
[-.05,1,fGreen],
[-.15,0,[.58,6.9,1,6.7,.95,6.1,.65,6.05]],
[-.22,0,[.66,6.78,.86,6.58,.76,6.3,.62,6.5]],
[-.15,0,[.62,1.33,.97,.98,1.03,.44,.76,.38,.6,.62]],
[-.22,0,[.72,1.27,.97,.74,.8,.38,.62,.74]]
];

const xDomain=[-7,10];
const yDomain=[0,10];

const panels=[
{id:'a',title:'SC',xL:116,xR:711,yT:147,yB:424,dataX:[-6,10],heights:aHeights,bands:aBands,black:aBlack,red:[aRed],green:[aGreen].concat(aGreenExtra),centres:aCentres,xt:xTicks,xl:xTickLabels,tickY:462,yLabelX:103,yDy:[-2,1,0],box:[640,154,55,36]},
{id:'b',title:'HR10',xL:871,xR:1466,yT:147,yB:424,dataX:[-7,9.75],heights:bHeights,bands:bBands,black:bBlack,red:[bRed],green:[bGreen,bGreenCavity].concat(bGreenExtra),centres:bCentres,xt:xTicks,xl:xTickLabels,tickY:462,yLabelX:856,yDy:[-2,1,0],box:[1364,152,94,36]},
{id:'c',title:'HR25',xL:116,xR:711,yT:518,yB:797,dataX:[-7,9.78],heights:cHeights,bands:cBands,black:cBlack,red:[cRed],green:[cGreen,cGreenCavity,cGreenPocket].concat(cGreenExtra),centres:cCentres,xt:xTicks,xl:xTickLabels,tickY:838,yLabelX:103,yDy:[-2,3,2],box:[610,524,93,36]},
{id:'d',title:'HR50',xL:871,xR:1466,yT:518,yB:797,dataX:[-7,9.75],heights:dHeights,bands:dBands,black:dBlack,red:[dRed],green:[dGreen,dGreenCavity,dGreenPocket].concat(dGreenExtra),centres:dCentres,xt:xTicks,xl:xTickLabels,tickY:838,yLabelX:856,yDy:[-2,3,2],box:[1364,524,94,36]},
{id:'e',title:'HR75',xL:116,xR:711,yT:912,yB:1193,dataX:[-7,9.78],heights:eHeights,bands:eBands,black:eBlack,red:[eRed],green:[eGreen,eGreenCavity,eGreenPocket,eGreenLow].concat(eGreenExtra),centres:eCentres,xt:xTicks,xl:xTickLabels,tickY:1230,yLabelX:103,yDy:[-2,3,5],box:[610,923,93,37]},
{id:'f',title:'HR100',xL:871,xR:1466,yT:913,yB:1193,dataX:[-7,9.75],heights:fHeights,bands:fBands,black:fBlack,red:[fRed],green:[fGreen,fGreenCavity].concat(fGreenExtra),centres:fCentres,xt:xTicksNoSeven,xl:xTickLabelsNoSeven,tickY:1230,yLabelX:856,yDy:[-2,2,4],box:[1344,922,112,37]}
];

const NS='http://www.w3.org/2000/svg';
function make(parent,tag,attrs,text){
  const el=document.createElementNS(NS,tag);
  for(const k in attrs){el.setAttribute(k,attrs[k]);}
  if(text!==undefined){el.textContent=text;}
  parent.appendChild(el);
  return el;
}
function colorFor(u){
  for(let i=0;i<colorValues.length;i++){
    if(u>=colorLevels[i]&&u<colorLevels[i+1]){return colorValues[i];}
  }
  return u<colorLevels[0]?colorValues[0]:colorValues[colorValues.length-1];
}
function toPoints(flat,sx,sy){
  const pts=[];
  for(let i=0;i+1<flat.length;i+=2){pts.push([sx(flat[i]),sy(flat[i+1])]);}
  return pts;
}
function f1(v){return v.toFixed(1);}
function openCurve(pts){
  let d='M'+f1(pts[0][0])+' '+f1(pts[0][1]);
  for(let i=0;i<pts.length-1;i++){
    const p0=pts[Math.max(i-1,0)],p1=pts[i],p2=pts[i+1],p3=pts[Math.min(i+2,pts.length-1)];
    d+='C'+f1(p1[0]+(p2[0]-p0[0])/6)+' '+f1(p1[1]+(p2[1]-p0[1])/6)+' '+f1(p2[0]-(p3[0]-p1[0])/6)+' '+f1(p2[1]-(p3[1]-p1[1])/6)+' '+f1(p2[0])+' '+f1(p2[1]);
  }
  return d;
}
function closedCurve(pts){
  const n=pts.length;
  let d='M'+f1(pts[0][0])+' '+f1(pts[0][1]);
  for(let i=0;i<n;i++){
    const p0=pts[(i-1+n)%n],p1=pts[i],p2=pts[(i+1)%n],p3=pts[(i+2)%n];
    d+='C'+f1(p1[0]+(p2[0]-p0[0])/6)+' '+f1(p1[1]+(p2[1]-p0[1])/6)+' '+f1(p2[0]-(p3[0]-p1[0])/6)+' '+f1(p2[1]-(p3[1]-p1[1])/6)+' '+f1(p2[0])+' '+f1(p2[1]);
  }
  return d+'Z';
}

/* colour bar */
(function(){
  const root=document.getElementById('colorbar');
  const barX=v=>581.3+(v+0.2)*366;
  for(let i=0;i<colorValues.length;i++){
    const seg=make(root,'rect',{x:barX(colorLevels[i]),y:6,width:barX(colorLevels[i+1])-barX(colorLevels[i])+.5,height:46,fill:colorValues[i]});
    
    
  }
  colorbarTicks.forEach(function(v,i){
    const t=make(root,'text',{x:barX(v)-(i===0?5:0),y:88,'font-size':33,'text-anchor':'middle'},colorbarLabels[i]);
    
    
  });
})();

/* panels */
const panelsRoot=document.getElementById('panels');
panels.forEach(function(p){
  const sx=v=>p.xL+(v-xDomain[0])/(xDomain[1]-xDomain[0])*(p.xR-p.xL);
  const sy=v=>p.yB-(v-yDomain[0])/(yDomain[1]-yDomain[0])*(p.yB-p.yT);
  const g=make(panelsRoot,'g',{});
  
  
  const clipId='clip-'+p.id;
  const defs=make(g,'defs',{});
  const cp=make(defs,'clipPath',{id:clipId});
  make(cp,'rect',{x:sx(p.dataX[0]),y:sy(10),width:sx(p.dataX[1])-sx(p.dataX[0]),height:sy(0)-sy(10)});
  const clipG=make(g,'g',{'clip-path':'url(#'+clipId+')'});
  
  
  const soft=make(clipG,'g',{filter:'url(#soft)'});
  const bg=make(soft,'rect',{x:sx(p.dataX[0])-6,y:sy(10)-6,width:sx(p.dataX[1])-sx(p.dataX[0])+12,height:sy(0)-sy(10)+12,fill:colorFor(1.05)});
  
  
  p.bands.forEach(function(b){
    const pts=toPoints(b[2],sx,sy);
    let d;
    if(b[1]===1){
      const last=pts[pts.length-1],first=pts[0];
      d=openCurve(pts)+'L'+f1(last[0])+' '+f1(sy(-1))+'L'+f1(first[0])+' '+f1(sy(-1))+'Z';
    }else{
      d=closedCurve(pts);
    }
    const el=make(soft,'path',{d:d,fill:colorFor(b[0])});
    
    
  });
  const lineLayer=make(clipG,'g',{filter:'url(#softline)'});
  p.green.forEach(function(l){
    const el=make(lineLayer,'path',{d:openCurve(toPoints(l,sx,sy)),fill:'none',stroke:'#1fd41f','stroke-width':2.8,'stroke-linejoin':'round'});
    
    
  });
  p.red.forEach(function(l){
    const el=make(lineLayer,'path',{d:openCurve(toPoints(l,sx,sy)),fill:'none',stroke:'#e01c2b','stroke-width':2.5,'stroke-dasharray':'9 6'});
    
    
  });
  p.black.forEach(function(l){
    const el=make(lineLayer,'path',{d:openCurve(toPoints(l,sx,sy)),fill:'none',stroke:'#0d0d0d','stroke-width':2.8,'stroke-dasharray':'13 5'});
    
    
  });
  /* buildings */
  const centresX=p.heights.length===2?[-4,0]:[0];
  p.heights.forEach(function(h,i){
    const c=centresX[i];
    const el=make(g,'rect',{x:sx(c-.5),y:sy(h),width:sx(c+.5)-sx(c-.5),height:sy(0)-sy(h),fill:'#d0d0d0',stroke:'#2b2b2b','stroke-width':2});
    
    
  });
  /* vortex centres */
  p.centres.forEach(function(c){
    const cx=sx(c[0]),cy=sy(c[1]),r=6.5;
    const el=make(g,'path',{d:'M'+(cx-r)+' '+(cy-r)+'L'+(cx+r)+' '+(cy+r)+'M'+(cx-r)+' '+(cy+r)+'L'+(cx+r)+' '+(cy-r),stroke:'#cf1f2e','stroke-width':2.2,fill:'none'});
    
    
  });
  /* recirculation arrow in panel a */
  if(p.id==='a'){
    const x0=sx(lrSpan[0]),x1=sx(lrSpan[1]),ya=sy(lrHeight);
    const arrow=make(g,'path',{d:'M'+x0+' '+ya+'L'+(x0+25)+' '+(ya-7)+'V'+(ya-1.2)+'H'+(x1-25)+'V'+(ya-7)+'L'+x1+' '+ya+'L'+(x1-25)+' '+(ya+7)+'V'+(ya+1.2)+'H'+(x0+25)+'V'+(ya+7)+'Z',fill:'#0d0d0d'});
    
    
  }
  /* ticks */
  for(let v=-7;v<=10;v++){
    const major=(v%5===0);
    const el=make(g,'line',{x1:sx(v),x2:sx(v),y1:sy(0),y2:sy(0)-(major?9:5),stroke:major?'#444':'#777','stroke-width':1});
    
    
  }
  for(let v=0;v<=10;v++){
    const major=(v%5===0);
    const el=make(g,'line',{x1:p.xL,x2:p.xL+(major?9:4),y1:sy(v),y2:sy(v),stroke:'#777','stroke-width':1,opacity:.6});
    
    
  }
  /* frame */
  const frame=make(g,'rect',{x:p.xL,y:p.yT,width:p.xR-p.xL,height:p.yB-p.yT,fill:'none',stroke:'#1c1c1c','stroke-width':3});
  
  
  /* tick labels */
  p.xt.forEach(function(v,i){
    const dx=v===-7?-3:(v===10?3:(v===-5?-2:0));
    const t=make(g,'text',{x:sx(v)+dx,y:p.tickY,'font-size':32.5,'text-anchor':'middle'},p.xl[i]);
    
    
  });
  yTicks.forEach(function(v,i){
    const t=make(g,'text',{x:p.yLabelX,y:sy(v)+11+p.yDy[i],'font-size':32.5,'text-anchor':'end'},yTickLabels[i]);
    
    
  });
  /* case label */
  const box=make(g,'rect',{x:p.box[0],y:p.box[1],width:p.box[2],height:p.box[3],fill:'#fff'});
  
  
  const title=make(g,'text',{x:p.box[0]+p.box[2]/2,y:p.box[1]+p.box[3]/2+10.5,'font-size':33,'text-anchor':'middle'},p.title);
  
  
});
</script>
</body>
</html>
